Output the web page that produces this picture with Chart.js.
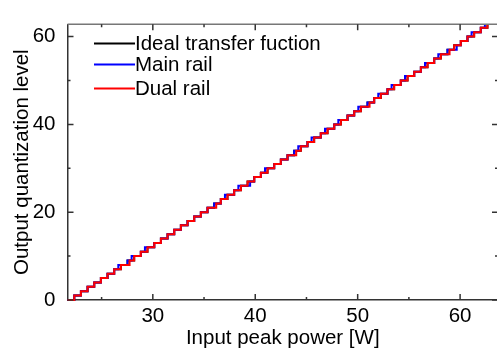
<!DOCTYPE html>
<html>
<head>
<meta charset="utf-8">
<script src="https://cdn.jsdelivr.net/npm/chart.js@4.4.0/dist/chart.umd.min.js"></script>
<style>
  html, body { margin: 0; padding: 0; background: #fff; overflow: hidden; }
  #wrap { width: 500px; height: 351px; }
</style>
</head>
<body>
<div id="wrap"><canvas id="chart"></canvas></div>
<script>
// input power range shown on the x axis [W]
const xMin = 21.67;
const xMax = 63.7;
const yMax = 62.8;

// input power [W] at which output level 1..63 is reached
const idealSteps = [
  22.33, 22.98, 23.63, 24.28, 24.93, 25.58, 26.23, 26.88, 27.53, 28.18,
  28.83, 29.48, 30.14, 30.79, 31.44, 32.09, 32.74, 33.39, 34.04, 34.69,
  35.34, 35.99, 36.64, 37.29, 37.94, 38.60, 39.25, 39.90, 40.55, 41.20,
  41.85, 42.50, 43.15, 43.80, 44.45, 45.10, 45.75, 46.40, 47.06, 47.71,
  48.36, 49.01, 49.66, 50.31, 50.96, 51.61, 52.26, 52.91, 53.56, 54.21,
  54.87, 55.52, 56.17, 56.82, 57.47, 58.12, 58.77, 59.42, 60.07, 60.72,
  61.37, 62.02, 62.67
];
const mainRailSteps = [
  22.33, 22.98, 23.63, 24.28, 24.93, 25.58, 26.23, 26.63, 27.53, 27.93,
  28.83, 29.23, 30.14, 30.79, 31.44, 32.09, 32.74, 33.39, 34.04, 34.69,
  35.34, 35.99, 36.64, 37.04, 37.94, 38.35, 39.50, 39.90, 40.55, 40.95,
  41.85, 42.50, 43.15, 43.80, 44.20, 45.10, 45.50, 46.40, 46.81, 47.71,
  48.11, 49.01, 49.66, 50.06, 50.96, 51.61, 52.01, 52.91, 53.31, 54.21,
  54.62, 55.52, 56.17, 56.57, 57.47, 57.87, 58.77, 59.67, 60.07, 60.72,
  61.12, 62.02, 62.42
];
const dualRailSteps = [
  22.33, 22.98, 23.63, 24.28, 24.93, 25.58, 26.23, 26.88, 27.73, 28.18,
  28.83, 29.48, 30.14, 30.79, 31.44, 32.09, 32.74, 33.39, 34.04, 34.69,
  35.34, 36.19, 36.64, 37.29, 37.94, 38.60, 39.25, 39.90, 40.55, 41.20,
  41.85, 42.50, 43.15, 44.00, 44.45, 45.10, 45.75, 46.40, 47.06, 47.71,
  48.36, 49.01, 49.66, 50.31, 51.16, 51.61, 52.26, 52.91, 53.56, 54.21,
  54.87, 55.52, 56.17, 56.82, 57.47, 58.12, 58.97, 59.42, 60.07, 60.72,
  61.37, 62.02, 62.67
];

const seriesNames = ['Ideal transfer fuction', 'Main rail', 'Dual rail'];
const seriesColors = ['#000000', '#0000ff', '#ff0000'];
const xTicksMajor = [30, 40, 50, 60];
const xTicksMinor = [25, 35, 45, 55];
const yTicksMajor = [0, 20, 40, 60];
const yTicksMinor = [10, 30, 50];

const FONT = "'Liberation Sans', Arial, sans-serif";
const FSIZE = 20.5;

function toPoints(steps) {
  const pts = [{ x: xMin, y: 0 }];
  steps.forEach((x, i) => pts.push({ x: x, y: i + 1 }));
  pts.push({ x: xMax, y: steps.length });
  return pts;
}

const allSteps = [idealSteps, mainRailSteps, dualRailSteps];

// tick marks point inward on all four sides, legend sits inside the plot
const frame = {
  id: 'frame',
  afterDraw(chart) {
    const ctx = chart.ctx;
    const a = chart.chartArea;
    const xs = chart.scales.x, ys = chart.scales.y;
    ctx.save();
    ctx.strokeStyle = '#777';
    ctx.lineWidth = 1.5;
    ctx.beginPath();
    ctx.moveTo(a.left, a.top); ctx.lineTo(a.right, a.top);
    ctx.moveTo(a.right, a.top); ctx.lineTo(a.right, a.bottom);
    ctx.stroke();
    ctx.strokeStyle = '#333';
    ctx.beginPath();
    const tick = (vals, len) => {
      vals.forEach(v => {
        const px = xs.getPixelForValue(v);
        ctx.moveTo(px, a.bottom); ctx.lineTo(px, a.bottom - len);
        ctx.moveTo(px, a.top); ctx.lineTo(px, a.top + len);
      });
    };
    const ytick = (vals, len) => {
      vals.forEach(v => {
        const py = ys.getPixelForValue(v);
        ctx.moveTo(a.left, py); ctx.lineTo(a.left + len, py);
        ctx.moveTo(a.right, py); ctx.lineTo(a.right - len, py);
      });
    };
    tick(xTicksMajor, 6); tick(xTicksMinor, 3);
    ytick(yTicksMajor, 6); ytick(yTicksMinor, 3);
    ctx.stroke();

    // legend
    const rows = [43.5, 64.5, 88.5];
    ctx.font = FSIZE + 'px ' + FONT;
    ctx.textBaseline = 'middle';
    ctx.fillStyle = '#000';
    seriesNames.forEach((name, i) => {
      ctx.strokeStyle = seriesColors[i];
      ctx.lineWidth = 2;
      ctx.beginPath();
      ctx.moveTo(94, rows[i]); ctx.lineTo(135, rows[i]);
      ctx.stroke();
      ctx.fillText(name, 135, rows[i] + 1);
    });
    ctx.restore();
  }
};

new Chart(document.getElementById('chart'), {
  type: 'line',
  data: {
    datasets: seriesNames.map((name, i) => ({
      label: name,
      data: toPoints(allSteps[i]),
      borderColor: seriesColors[i],
      borderWidth: 2,
      pointRadius: 0,
      stepped: 'before',
      fill: false,
      order: 2 - i,
      clip: { left: 4, top: 0, right: 0, bottom: 4 }
    }))
  },
  options: {
    responsive: true,
    maintainAspectRatio: false,
    animation: false,
    events: [],
    layout: { padding: { left: 0, top: 11, right: 2, bottom: 0 } },
    plugins: { legend: { display: false }, tooltip: { enabled: false } },
    scales: {
      x: {
        type: 'linear',
        min: xMin,
        max: xMax,
        afterBuildTicks: s => { s.ticks = xTicksMajor.map(v => ({ value: v })); },
        afterFit: s => { s.height = 51; },
        grid: { display: false, tickLength: 0 },
        border: { display: true, color: '#333', width: 1.5 },
        ticks: { color: '#000', padding: 4, font: { family: FONT, size: FSIZE } },
        title: {
          display: true,
          text: 'Input peak power [W]',
          color: '#000',
          font: { family: FONT, size: FSIZE },
          padding: { top: 0, bottom: 0 }
        }
      },
      y: {
        type: 'linear',
        min: 0,
        max: yMax,
        afterBuildTicks: s => { s.ticks = yTicksMajor.map(v => ({ value: v })); },
        afterFit: s => { s.width = 67.5; },
        grid: { display: false, tickLength: 0 },
        border: { display: true, color: '#333', width: 1.5 },
        ticks: { color: '#000', padding: 12, font: { family: FONT, size: FSIZE } },
        title: {
          display: true,
          text: 'Output quantization level',
          color: '#000',
          font: { family: FONT, size: FSIZE },
          padding: { top: 10, bottom: 0 }
        }
      }
    }
  },
  plugins: [frame]
});
</script>
</body>
</html>
